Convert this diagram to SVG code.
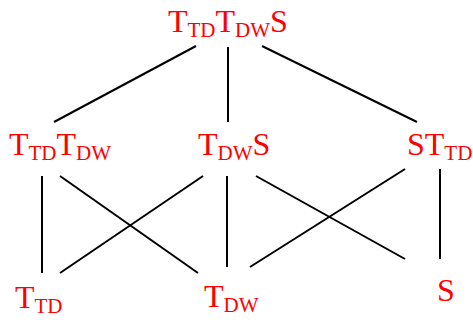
<svg xmlns="http://www.w3.org/2000/svg" width="473" height="323" viewBox="0 0 473 323">
<style>
text{font-family:"Liberation Serif","Times New Roman",serif;font-size:32px;fill:#ff0000}
.s{font-size:21px}
.e line{stroke:#000;stroke-width:2}
</style>
<rect width="473" height="323" fill="#fff"/>
<g class="e" id="connectors">
<line x1="196" y1="46" x2="54" y2="122"/>
<line x1="228" y1="47" x2="228" y2="122"/>
<line x1="262" y1="46" x2="417" y2="122"/>
<line x1="42" y1="176" x2="42" y2="273"/>
<line x1="60" y1="176" x2="198" y2="273"/>
<line x1="203" y1="176" x2="60" y2="273"/>
<line x1="227" y1="176" x2="227" y2="267"/>
<line x1="256" y1="176" x2="405" y2="259"/>
<line x1="405" y1="169" x2="250" y2="267"/>
<line x1="440" y1="169" x2="440" y2="259"/>
</g>
<g id="n-top"><text x="168" y="32">T<tspan class="s" dy="5">TD</tspan><tspan dy="-5">T</tspan><tspan class="s" dy="5">DW</tspan><tspan dy="-5">S</tspan></text></g>
<g id="n-ttdtdw"><text x="9" y="155">T<tspan class="s" dy="5">TD</tspan><tspan dy="-5">T</tspan><tspan class="s" dy="5">DW</tspan></text></g>
<g id="n-tdws"><text x="198" y="155">T<tspan class="s" dy="5">DW</tspan><tspan dy="-5">S</tspan></text></g>
<g id="n-sttd"><text x="407" y="155">S<tspan>T</tspan><tspan class="s" dy="5">TD</tspan></text></g>
<g id="n-ttd"><text x="15" y="308">T<tspan class="s" dy="5">TD</tspan></text></g>
<g id="n-tdw"><text x="204" y="307">T<tspan class="s" dy="5">DW</tspan></text></g>
<g id="n-s"><text x="437" y="301">S</text></g>
</svg>
